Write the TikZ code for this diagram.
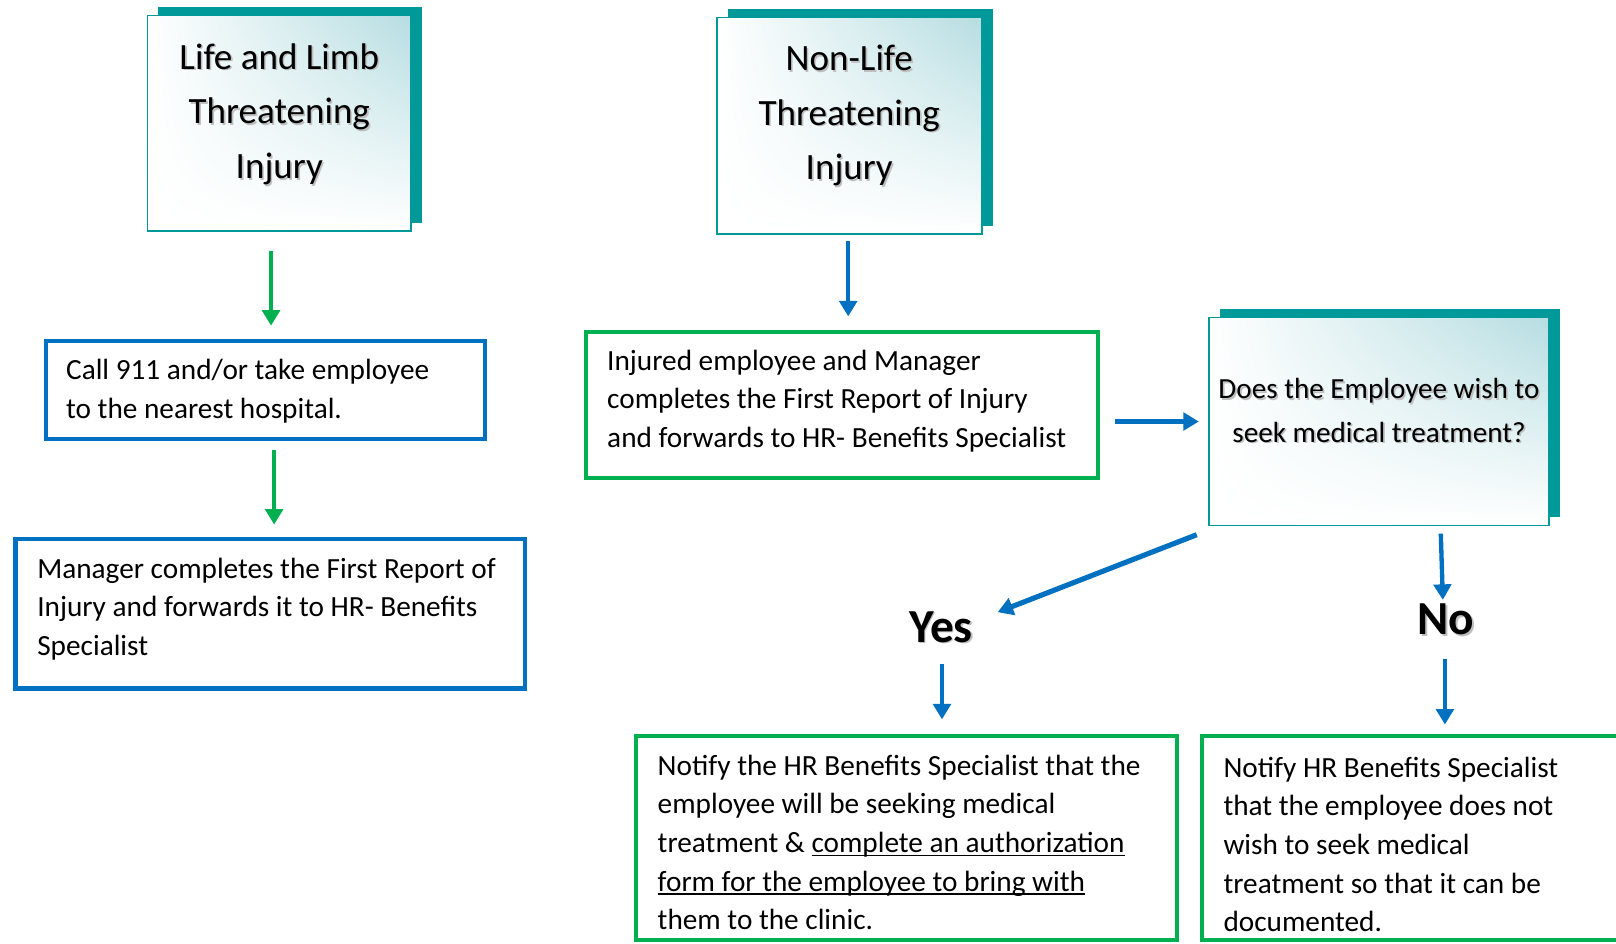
\documentclass[tikz,border=0pt]{standalone}
\usepackage{fontspec}
\setmainfont{Carlito}
\usetikzlibrary{arrows.meta,shadows,shadings,calc}
\definecolor{tealc}{HTML}{009999}
\definecolor{tealL}{HTML}{B6DDE1}
\definecolor{blueC}{HTML}{0070C0}
\definecolor{greenC}{HTML}{00B050}
\newsavebox\ulbox
\newcommand\shd[1]{\makebox[0pt][l]{\hspace{1.6pt}\raisebox{-1.6pt}{\color{black!25}#1}}#1}
\newcommand\uln[1]{\leavevmode\sbox\ulbox{#1}\rlap{\rule[-3.8pt]{\wd\ulbox}{1.9pt}}\usebox\ulbox}
\begin{document}
\begin{tikzpicture}[x=1pt,y=-1pt,
  hdrbox/.style={draw=tealc, line width=1.6pt, upper right=tealL, upper left=white,
    lower left=white, lower right=white,
    general shadow={fill=tealc, shadow xshift=10.5pt, shadow yshift=8pt}, inner sep=0pt},
  hdrtext/.style={align=center, inner sep=0pt, font=\fontsize{36}{53}\selectfont},
  qtext/.style={align=center, inner sep=0pt, font=\fontsize{28.3}{42}\selectfont},
  bodybox/.style={line width=4pt, inner sep=0pt, fill=white},
  bluebox/.style={bodybox, draw=blueC},
  greenbox/.style={bodybox, draw=greenC},
  btext/.style={anchor=west, align=left, inner sep=0pt, font=\fontsize{28.4}{37.5}\selectfont},
  label/.style={inner sep=2pt, font=\bfseries\fontsize{46}{50}\selectfont},
  tip/.style={-{Triangle[width=17pt,length=15pt]}},
  garr/.style={tip, draw=greenC, line width=4.2pt},
  barr/.style={tip, draw=blueC, line width=4.2pt}]
\useasboundingbox (0,0) rectangle (1568,915);
\fill[white] (0,0) rectangle (1568,915);

% header boxes
\node[hdrbox, minimum width=256pt, minimum height=209pt] (lifebox) at (271,119.5) {};
\node[hdrtext] (lifetxt) at (271,111.5) {\shd{Life and Limb}\\\shd{Threatening}\\\shd{Injury}};
\node[hdrbox, minimum width=257pt, minimum height=210pt] (nonbox) at (824.5,122) {};
\node[hdrtext] (nontxt) at (824,113) {\shd{Non-Life}\\\shd{Threatening}\\\shd{Injury}};
\node[hdrbox, minimum width=330pt, minimum height=202pt] (qbox) at (1338,409) {};
\node[qtext] (qtxt) at (1338,399) {\shd{Does the Employee wish to}\\\shd{seek medical treatment?}};

% left column
\node[bluebox, minimum width=426pt, minimum height=95pt] (callbox) at (258,378.5) {};
\node[btext] (calltxt) at ($(callbox.west)+(21,1)$)
  {Call 911 and/or take employee\\to the nearest hospital.};
\node[bluebox, minimum width=494pt, minimum height=145pt] (manbox) at (262,595.5) {};
\node[btext] (mantxt) at ($(manbox.west)+(23,-4.5)$)
  {Manager completes the First Report of\\Injury and forwards it to HR- Benefits\\Specialist};

% right column
\node[greenbox, minimum width=496pt, minimum height=142pt] (injbox) at (817,393) {};
\node[btext] (injtxt) at ($(injbox.west)+(22,-4)$)
  {Injured employee and Manager\\completes the First Report of Injury\\and forwards to HR- Benefits Specialist};
\node[greenbox, minimum width=525pt, minimum height=198pt] (yesbox) at (879.5,813) {};
\node[btext] (yestxt) at ($(yesbox.west)+(23,4.5)$)
  {Notify the HR Benefits Specialist that the\\employee will be seeking medical\\treatment \& \uln{complete an authorization}\\\uln{form for the employee to bring with}\\them to the clinic.};
\node[greenbox, minimum width=419pt, minimum height=198pt] (nobox) at (1375.5,813) {};
\node[btext] (notxt) at ($(nobox.west)+(23,6.5)$)
  {Notify HR Benefits Specialist\\that the employee does not\\wish to seek medical\\treatment so that it can be\\documented.};

\node[label] (yes) at (913,609) {\shd{Yes}};
\node[label] (no) at (1403,602) {\shd{No}};

% connectors
\draw[garr] ($(lifebox.south)+(-8,19)$) -- ($(callbox.north)+(5,-13)$);
\draw[garr] ($(callbox.south)+(8,9)$) -- ($(manbox.north)+(4,-12)$);
\draw[barr] ($(nonbox.south)+(-1.5,6)$) -- ($(injbox.north)+(6,-13)$);
\draw[barr] ($(injbox.east)+(15,16)$) -- ($(qbox.west)+(-9,0)$);
\draw[barr, line width=5pt] ($(qbox.south west)+(-11,8)$) -- ($(yes.center)+(55,-15)$);
\draw[barr] ($(qbox.south)+(60,7)$) -- ($(no.center)+(-3,-20)$);
\draw[barr] ($(yes.center)+(1,35)$) -- ($(yesbox.north)+(34.5,-14)$);
\draw[barr] ($(no.center)+(-1,37)$) -- ($(nobox.north)+(26.5,-9)$);
\end{tikzpicture}
\end{document}
